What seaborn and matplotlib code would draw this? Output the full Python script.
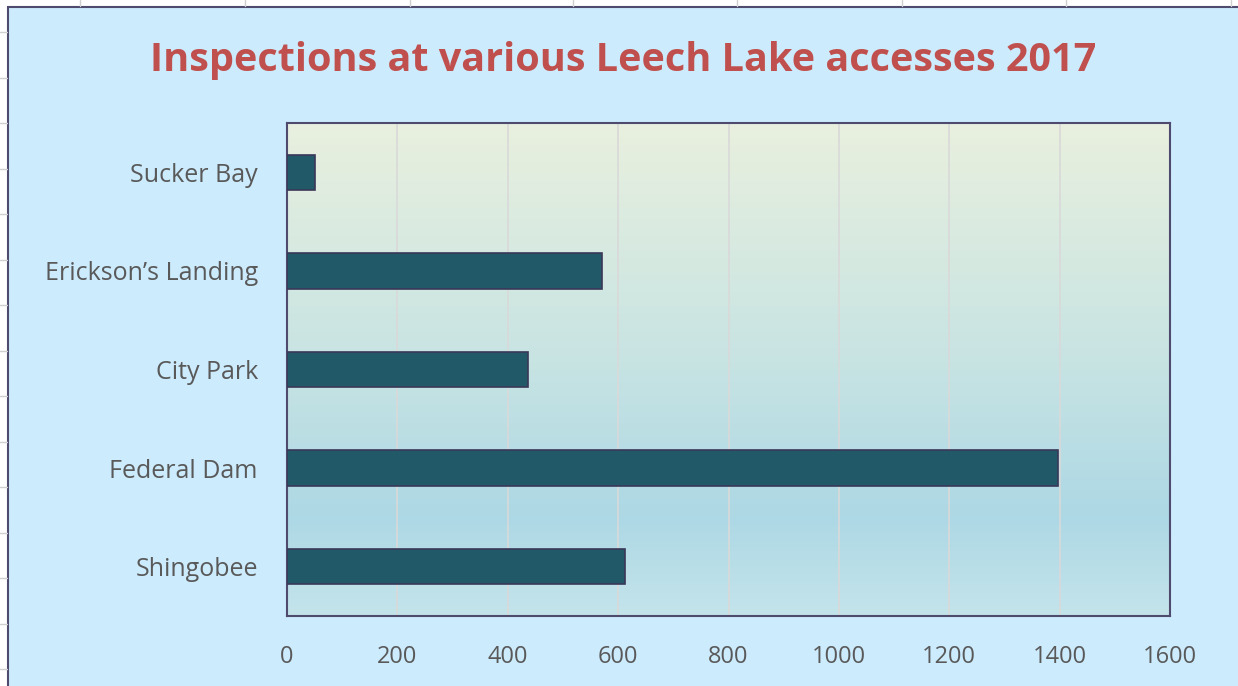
import numpy as np
import pandas as pd
import matplotlib
matplotlib.use("Agg")
import matplotlib.pyplot as plt
import seaborn as sns
from matplotlib.colors import LinearSegmentedColormap
from matplotlib.patches import Rectangle
from matplotlib.lines import Line2D

# ======================================
# DATA
# ======================================

accesses = ["Sucker Bay", "Erickson\u2019s Landing", "City Park", "Federal Dam", "Shingobee"]
inspections = [50, 570, 437, 1397, 612]
x_ticks = [0, 200, 400, 600, 800, 1000, 1200, 1400, 1600]

df = pd.DataFrame({"Access": accesses, "Inspections": inspections})

# ======================================
# FIGURE
# ======================================

sns.set_style("white")
plt.rcParams["font.family"] = ["Open Sans", "DejaVu Sans"]

W, H = 1238, 686
fig = plt.figure(figsize=(W / 100, H / 100), dpi=100, facecolor="white")

# chart area (light blue box with dark border), sheet shows a bit at top/left
fig.add_artist(Rectangle((8 / W, -0.01), 1.02, 1 - 7 / H + 0.01, transform=fig.transFigure,
                         facecolor="#CCEBFD", edgecolor="#4F4B6E", linewidth=1.5, zorder=0))

# faint sheet gridline stubs outside the chart
for x in [80, 245, 410, 573, 737, 902, 1066, 1231]:
    fig.add_artist(Line2D([x / W, x / W], [1 - 6 / H, 1], transform=fig.transFigure,
                          color="#D0D0D0", linewidth=1))
for y in np.arange(32, 686, 45.5):
    fig.add_artist(Line2D([0, 7 / W], [1 - y / H, 1 - y / H], transform=fig.transFigure,
                          color="#D0D0D0", linewidth=1))

ax = fig.add_axes([287 / W, 1 - 616 / H, (1170 - 287) / W, (616 - 123) / H])

# plot area gradient
grad = LinearSegmentedColormap.from_list(
    "bg", [(0.0, "#C4E4EB"), (0.2, "#ADD8E5"), (0.5, "#C6E3E3"), (1.0, "#E9F0DE")])
ax.imshow(np.linspace(0, 1, 256).reshape(-1, 1), cmap=grad, origin="lower",
          extent=[0, 1, 0, 1], transform=ax.transAxes, aspect="auto", zorder=0)

sns.barplot(data=df, x="Inspections", y="Access", orient="h", order=accesses,
            color="#215968", saturation=1, width=0.36,
            edgecolor="#3A3858", linewidth=1.2, ax=ax, zorder=3)

ax.set_xlim(0, 1600)
ax.set_ylim(4.5, -0.5)
ax.set_xticks(x_ticks)
ax.set_xticklabels([str(t) for t in x_ticks])
ax.grid(axis="x", color="#D9D9D9", linewidth=1.2, zorder=1)
ax.set_axisbelow(True)
ax.set_xlabel("")
ax.set_ylabel("")

for s in ax.spines.values():
    s.set_visible(True)
    s.set_color("#4F4B6E")
    s.set_linewidth(1.5)

ax.tick_params(axis="x", length=0, pad=21, labelsize=17, labelcolor="#595959")
ax.tick_params(axis="y", length=0, pad=21, labelsize=18, labelcolor="#595959")

fig.text(623 / W, 1 - 60 / H, "Inspections at various Leech Lake accesses 2017",
         ha="center", va="center", fontsize=28.5, fontweight="bold", color="#C0504D")

fig.savefig("out.png", dpi=100)
